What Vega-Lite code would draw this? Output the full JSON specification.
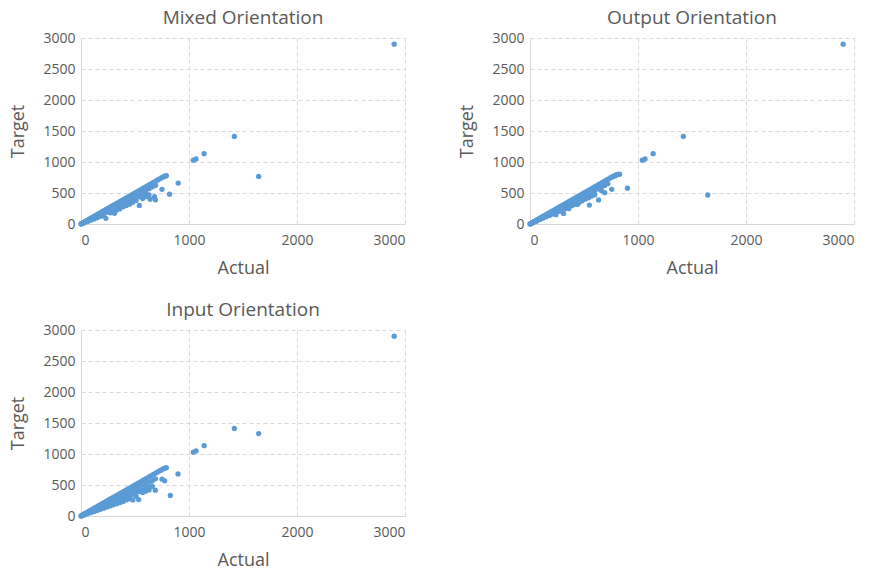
{
  "$schema": "https://vega.github.io/schema/vega-lite/v6.json",
  "padding": {"left": 9, "top": 9, "right": 5, "bottom": 3},
  "config": {
    "font": "Open Sans",
    "view": {"stroke": null},
    "axis": {"labelColor": "#595959", "titleColor": "#595959", "labelFontSize": 14, "titleFontSize": 18, "titleFontWeight": "normal", "gridColor": "#D9D9D9", "gridDash": [4, 3], "domainColor": "#D9D9D9", "ticks": false, "labelPadding": 6, "format": "d"},
    "axisX": {"labelPadding": 9, "titlePadding": 12},
    "axisY": {"titlePadding": 15},
    "title": {"fontSize": 19, "fontWeight": "normal", "color": "#595959", "offset": 3}
  },
  "datasets": {
    "pts": [
      {"panel": "All", "actual": 0, "target": 0}, {"panel": "All", "actual": 3, "target": 3}, {"panel": "All", "actual": 6, "target": 6}, {"panel": "All", "actual": 9, "target": 9}, {"panel": "All", "actual": 12, "target": 12}, {"panel": "All", "actual": 15, "target": 15}, {"panel": "All", "actual": 19, "target": 19}, {"panel": "All", "actual": 23, "target": 23}, {"panel": "All", "actual": 27, "target": 27}, {"panel": "All", "actual": 31, "target": 31}, {"panel": "All", "actual": 36, "target": 36}, {"panel": "All", "actual": 41, "target": 41}, {"panel": "All", "actual": 46, "target": 46}, {"panel": "All", "actual": 52, "target": 52}, {"panel": "All", "actual": 58, "target": 58}, {"panel": "All", "actual": 64, "target": 64}, {"panel": "All", "actual": 70, "target": 70}, {"panel": "All", "actual": 77, "target": 77}, {"panel": "All", "actual": 84, "target": 84}, {"panel": "All", "actual": 91, "target": 91}, {"panel": "All", "actual": 98, "target": 98}, {"panel": "All", "actual": 106, "target": 106}, {"panel": "All", "actual": 114, "target": 114}, {"panel": "All", "actual": 122, "target": 122}, {"panel": "All", "actual": 130, "target": 130}, {"panel": "All", "actual": 139, "target": 139}, {"panel": "All", "actual": 148, "target": 148}, {"panel": "All", "actual": 157, "target": 157}, {"panel": "All", "actual": 166, "target": 166}, {"panel": "All", "actual": 176, "target": 176}, {"panel": "All", "actual": 186, "target": 186}, {"panel": "All", "actual": 196, "target": 196}, {"panel": "All", "actual": 206, "target": 206}, {"panel": "All", "actual": 217, "target": 217}, {"panel": "All", "actual": 228, "target": 228}, {"panel": "All", "actual": 239, "target": 239}, {"panel": "All", "actual": 250, "target": 250}, {"panel": "All", "actual": 262, "target": 262}, {"panel": "All", "actual": 274, "target": 274}, {"panel": "All", "actual": 286, "target": 286}, {"panel": "All", "actual": 298, "target": 298}, {"panel": "All", "actual": 311, "target": 311}, {"panel": "All", "actual": 324, "target": 324}, {"panel": "All", "actual": 337, "target": 337}, {"panel": "All", "actual": 350, "target": 350}, {"panel": "All", "actual": 364, "target": 364}, {"panel": "All", "actual": 378, "target": 378}, {"panel": "All", "actual": 392, "target": 392}, {"panel": "All", "actual": 406, "target": 406}, {"panel": "All", "actual": 421, "target": 421}, {"panel": "All", "actual": 436, "target": 436}, {"panel": "All", "actual": 451, "target": 451}, {"panel": "All", "actual": 466, "target": 466}, {"panel": "All", "actual": 482, "target": 482}, {"panel": "All", "actual": 498, "target": 498}, {"panel": "All", "actual": 514, "target": 514}, {"panel": "All", "actual": 530, "target": 530}, {"panel": "All", "actual": 547, "target": 547}, {"panel": "All", "actual": 564, "target": 564}, {"panel": "All", "actual": 581, "target": 581}, {"panel": "All", "actual": 598, "target": 598}, {"panel": "All", "actual": 616, "target": 616}, {"panel": "All", "actual": 634, "target": 634}, {"panel": "All", "actual": 652, "target": 652}, {"panel": "All", "actual": 670, "target": 670}, {"panel": "All", "actual": 688, "target": 688}, {"panel": "All", "actual": 706, "target": 706}, {"panel": "All", "actual": 724, "target": 724}, {"panel": "All", "actual": 742, "target": 742}, {"panel": "All", "actual": 760, "target": 760}, {"panel": "All", "actual": 775, "target": 770}, {"panel": "All", "actual": 790, "target": 780}, {"panel": "All", "actual": 1040, "target": 1030}, {"panel": "All", "actual": 1065, "target": 1050}, {"panel": "All", "actual": 1140, "target": 1135}, {"panel": "All", "actual": 1420, "target": 1412}, {"panel": "All", "actual": 2900, "target": 2900},

      {"panel": "Mixed", "actual": 30, "target": 27}, {"panel": "Mixed", "actual": 30, "target": 24}, {"panel": "Mixed", "actual": 30, "target": 21},
      {"panel": "Mixed", "actual": 60, "target": 54}, {"panel": "Mixed", "actual": 60, "target": 47}, {"panel": "Mixed", "actual": 60, "target": 40},
      {"panel": "Mixed", "actual": 90, "target": 81}, {"panel": "Mixed", "actual": 90, "target": 72}, {"panel": "Mixed", "actual": 90, "target": 62},
      {"panel": "Mixed", "actual": 120, "target": 107}, {"panel": "Mixed", "actual": 120, "target": 95}, {"panel": "Mixed", "actual": 120, "target": 80},
      {"panel": "Mixed", "actual": 150, "target": 135}, {"panel": "Mixed", "actual": 150, "target": 118}, {"panel": "Mixed", "actual": 150, "target": 100},
      {"panel": "Mixed", "actual": 180, "target": 162}, {"panel": "Mixed", "actual": 180, "target": 142}, {"panel": "Mixed", "actual": 180, "target": 122},
      {"panel": "Mixed", "actual": 210, "target": 188}, {"panel": "Mixed", "actual": 210, "target": 166}, {"panel": "Mixed", "actual": 210, "target": 140},
      {"panel": "Mixed", "actual": 240, "target": 215}, {"panel": "Mixed", "actual": 240, "target": 190}, {"panel": "Mixed", "actual": 230, "target": 92},
      {"panel": "Mixed", "actual": 270, "target": 243}, {"panel": "Mixed", "actual": 270, "target": 212}, {"panel": "Mixed", "actual": 270, "target": 180},
      {"panel": "Mixed", "actual": 300, "target": 268}, {"panel": "Mixed", "actual": 300, "target": 238}, {"panel": "Mixed", "actual": 310, "target": 172},
      {"panel": "Mixed", "actual": 330, "target": 296}, {"panel": "Mixed", "actual": 330, "target": 262}, {"panel": "Mixed", "actual": 330, "target": 225},
      {"panel": "Mixed", "actual": 360, "target": 322}, {"panel": "Mixed", "actual": 360, "target": 290}, {"panel": "Mixed", "actual": 360, "target": 245},
      {"panel": "Mixed", "actual": 390, "target": 350}, {"panel": "Mixed", "actual": 390, "target": 312}, {"panel": "Mixed", "actual": 390, "target": 280},
      {"panel": "Mixed", "actual": 420, "target": 378}, {"panel": "Mixed", "actual": 420, "target": 340}, {"panel": "Mixed", "actual": 420, "target": 300},
      {"panel": "Mixed", "actual": 450, "target": 405}, {"panel": "Mixed", "actual": 450, "target": 362}, {"panel": "Mixed", "actual": 450, "target": 320},
      {"panel": "Mixed", "actual": 480, "target": 432}, {"panel": "Mixed", "actual": 480, "target": 400}, {"panel": "Mixed", "actual": 480, "target": 350},
      {"panel": "Mixed", "actual": 510, "target": 460}, {"panel": "Mixed", "actual": 510, "target": 420}, {"panel": "Mixed", "actual": 510, "target": 380},
      {"panel": "Mixed", "actual": 540, "target": 490}, {"panel": "Mixed", "actual": 540, "target": 440}, {"panel": "Mixed", "actual": 540, "target": 300},
      {"panel": "Mixed", "actual": 570, "target": 515}, {"panel": "Mixed", "actual": 570, "target": 470}, {"panel": "Mixed", "actual": 570, "target": 410},
      {"panel": "Mixed", "actual": 600, "target": 545}, {"panel": "Mixed", "actual": 600, "target": 500}, {"panel": "Mixed", "actual": 600, "target": 440},
      {"panel": "Mixed", "actual": 630, "target": 570}, {"panel": "Mixed", "actual": 630, "target": 470}, {"panel": "Mixed", "actual": 640, "target": 400},
      {"panel": "Mixed", "actual": 660, "target": 600}, {"panel": "Mixed", "actual": 680, "target": 440}, {"panel": "Mixed", "actual": 690, "target": 390},
      {"panel": "Mixed", "actual": 690, "target": 625}, {"panel": "Mixed", "actual": 750, "target": 560}, {"panel": "Mixed", "actual": 820, "target": 480},
      {"panel": "Mixed", "actual": 900, "target": 660}, {"panel": "Mixed", "actual": 1645, "target": 768},

      {"panel": "Output", "actual": 30, "target": 27}, {"panel": "Output", "actual": 30, "target": 23},
      {"panel": "Output", "actual": 60, "target": 54}, {"panel": "Output", "actual": 60, "target": 46},
      {"panel": "Output", "actual": 90, "target": 81}, {"panel": "Output", "actual": 90, "target": 70},
      {"panel": "Output", "actual": 120, "target": 108}, {"panel": "Output", "actual": 120, "target": 92},
      {"panel": "Output", "actual": 150, "target": 135}, {"panel": "Output", "actual": 150, "target": 115},
      {"panel": "Output", "actual": 180, "target": 162}, {"panel": "Output", "actual": 180, "target": 138},
      {"panel": "Output", "actual": 210, "target": 189}, {"panel": "Output", "actual": 210, "target": 160},
      {"panel": "Output", "actual": 240, "target": 216}, {"panel": "Output", "actual": 240, "target": 150},
      {"panel": "Output", "actual": 270, "target": 243}, {"panel": "Output", "actual": 270, "target": 205},
      {"panel": "Output", "actual": 300, "target": 270}, {"panel": "Output", "actual": 300, "target": 228}, {"panel": "Output", "actual": 310, "target": 170},
      {"panel": "Output", "actual": 330, "target": 297}, {"panel": "Output", "actual": 330, "target": 250},
      {"panel": "Output", "actual": 360, "target": 324}, {"panel": "Output", "actual": 360, "target": 275}, {"panel": "Output", "actual": 360, "target": 250},
      {"panel": "Output", "actual": 390, "target": 351}, {"panel": "Output", "actual": 390, "target": 298},
      {"panel": "Output", "actual": 420, "target": 378}, {"panel": "Output", "actual": 420, "target": 320},
      {"panel": "Output", "actual": 450, "target": 405}, {"panel": "Output", "actual": 450, "target": 340}, {"panel": "Output", "actual": 440, "target": 318},
      {"panel": "Output", "actual": 480, "target": 432}, {"panel": "Output", "actual": 480, "target": 370},
      {"panel": "Output", "actual": 510, "target": 460}, {"panel": "Output", "actual": 510, "target": 400},
      {"panel": "Output", "actual": 540, "target": 486}, {"panel": "Output", "actual": 540, "target": 420}, {"panel": "Output", "actual": 550, "target": 305},
      {"panel": "Output", "actual": 570, "target": 513}, {"panel": "Output", "actual": 570, "target": 450},
      {"panel": "Output", "actual": 600, "target": 540}, {"panel": "Output", "actual": 600, "target": 470},
      {"panel": "Output", "actual": 630, "target": 567}, {"panel": "Output", "actual": 635, "target": 388},
      {"panel": "Output", "actual": 660, "target": 594}, {"panel": "Output", "actual": 660, "target": 540},
      {"panel": "Output", "actual": 690, "target": 621}, {"panel": "Output", "actual": 692, "target": 505},
      {"panel": "Output", "actual": 720, "target": 650}, {"panel": "Output", "actual": 757, "target": 560},
      {"panel": "Output", "actual": 800, "target": 795}, {"panel": "Output", "actual": 815, "target": 800}, {"panel": "Output", "actual": 830, "target": 803},
      {"panel": "Output", "actual": 902, "target": 578}, {"panel": "Output", "actual": 1646, "target": 468},

      {"panel": "Input", "actual": 30, "target": 26}, {"panel": "Input", "actual": 30, "target": 22}, {"panel": "Input", "actual": 30, "target": 18},
      {"panel": "Input", "actual": 60, "target": 52}, {"panel": "Input", "actual": 60, "target": 44}, {"panel": "Input", "actual": 60, "target": 36},
      {"panel": "Input", "actual": 90, "target": 78}, {"panel": "Input", "actual": 90, "target": 66}, {"panel": "Input", "actual": 90, "target": 54},
      {"panel": "Input", "actual": 120, "target": 104}, {"panel": "Input", "actual": 120, "target": 88}, {"panel": "Input", "actual": 120, "target": 72},
      {"panel": "Input", "actual": 150, "target": 130}, {"panel": "Input", "actual": 150, "target": 110}, {"panel": "Input", "actual": 150, "target": 90},
      {"panel": "Input", "actual": 180, "target": 156}, {"panel": "Input", "actual": 180, "target": 132}, {"panel": "Input", "actual": 180, "target": 108},
      {"panel": "Input", "actual": 210, "target": 182}, {"panel": "Input", "actual": 210, "target": 154}, {"panel": "Input", "actual": 210, "target": 126},
      {"panel": "Input", "actual": 240, "target": 208}, {"panel": "Input", "actual": 240, "target": 176}, {"panel": "Input", "actual": 240, "target": 144},
      {"panel": "Input", "actual": 270, "target": 234}, {"panel": "Input", "actual": 270, "target": 198}, {"panel": "Input", "actual": 270, "target": 162},
      {"panel": "Input", "actual": 300, "target": 260}, {"panel": "Input", "actual": 300, "target": 220}, {"panel": "Input", "actual": 300, "target": 180},
      {"panel": "Input", "actual": 330, "target": 286}, {"panel": "Input", "actual": 330, "target": 242}, {"panel": "Input", "actual": 330, "target": 198},
      {"panel": "Input", "actual": 360, "target": 312}, {"panel": "Input", "actual": 360, "target": 264}, {"panel": "Input", "actual": 360, "target": 216},
      {"panel": "Input", "actual": 390, "target": 338}, {"panel": "Input", "actual": 390, "target": 286}, {"panel": "Input", "actual": 390, "target": 234},
      {"panel": "Input", "actual": 420, "target": 364}, {"panel": "Input", "actual": 420, "target": 308}, {"panel": "Input", "actual": 420, "target": 260},
      {"panel": "Input", "actual": 450, "target": 390}, {"panel": "Input", "actual": 450, "target": 330}, {"panel": "Input", "actual": 450, "target": 280},
      {"panel": "Input", "actual": 480, "target": 416}, {"panel": "Input", "actual": 480, "target": 352}, {"panel": "Input", "actual": 480, "target": 260},
      {"panel": "Input", "actual": 510, "target": 442}, {"panel": "Input", "actual": 510, "target": 374}, {"panel": "Input", "actual": 510, "target": 320},
      {"panel": "Input", "actual": 540, "target": 468}, {"panel": "Input", "actual": 540, "target": 396}, {"panel": "Input", "actual": 534, "target": 265},
      {"panel": "Input", "actual": 570, "target": 494}, {"panel": "Input", "actual": 570, "target": 418}, {"panel": "Input", "actual": 570, "target": 380},
      {"panel": "Input", "actual": 600, "target": 520}, {"panel": "Input", "actual": 600, "target": 440}, {"panel": "Input", "actual": 600, "target": 400},
      {"panel": "Input", "actual": 630, "target": 546}, {"panel": "Input", "actual": 630, "target": 460}, {"panel": "Input", "actual": 630, "target": 420},
      {"panel": "Input", "actual": 660, "target": 570}, {"panel": "Input", "actual": 660, "target": 480},
      {"panel": "Input", "actual": 690, "target": 600}, {"panel": "Input", "actual": 688, "target": 417},
      {"panel": "Input", "actual": 750, "target": 594}, {"panel": "Input", "actual": 775, "target": 567}, {"panel": "Input", "actual": 827, "target": 332},
      {"panel": "Input", "actual": 898, "target": 679}, {"panel": "Input", "actual": 1645, "target": 1330}
    ]
  },
  "columns": 2,
  "spacing": {"column": 53, "row": 24},
  "concat": [
    {
      "title": "Mixed Orientation",
      "width": 324, "height": 186,
      "data": {"name": "pts"},
      "transform": [{"filter": "datum.panel === 'All' || datum.panel === 'Mixed'"}],
      "mark": {"type": "circle", "size": 28, "color": "#5B9BD5", "opacity": 1},
      "encoding": {
        "x": {"field": "actual", "type": "quantitative", "title": "Actual", "scale": {"domain": [0, 3000], "nice": false}, "axis": {"values": [0, 1000, 2000, 3000]}},
        "y": {"field": "target", "type": "quantitative", "title": "Target", "scale": {"domain": [0, 3000], "nice": false}, "axis": {"values": [0, 500, 1000, 1500, 2000, 2500, 3000]}}
      }
    },
    {
      "title": "Output Orientation",
      "width": 324, "height": 186,
      "data": {"name": "pts"},
      "transform": [{"filter": "datum.panel === 'All' || datum.panel === 'Output'"}],
      "mark": {"type": "circle", "size": 28, "color": "#5B9BD5", "opacity": 1},
      "encoding": {
        "x": {"field": "actual", "type": "quantitative", "title": "Actual", "scale": {"domain": [0, 3000], "nice": false}, "axis": {"values": [0, 1000, 2000, 3000]}},
        "y": {"field": "target", "type": "quantitative", "title": "Target", "scale": {"domain": [0, 3000], "nice": false}, "axis": {"values": [0, 500, 1000, 1500, 2000, 2500, 3000]}}
      }
    },
    {
      "title": "Input Orientation",
      "width": 324, "height": 186,
      "data": {"name": "pts"},
      "transform": [{"filter": "datum.panel === 'All' || datum.panel === 'Input'"}],
      "mark": {"type": "circle", "size": 28, "color": "#5B9BD5", "opacity": 1},
      "encoding": {
        "x": {"field": "actual", "type": "quantitative", "title": "Actual", "scale": {"domain": [0, 3000], "nice": false}, "axis": {"values": [0, 1000, 2000, 3000]}},
        "y": {"field": "target", "type": "quantitative", "title": "Target", "scale": {"domain": [0, 3000], "nice": false}, "axis": {"values": [0, 500, 1000, 1500, 2000, 2500, 3000]}}
      }
    }
  ]
}
